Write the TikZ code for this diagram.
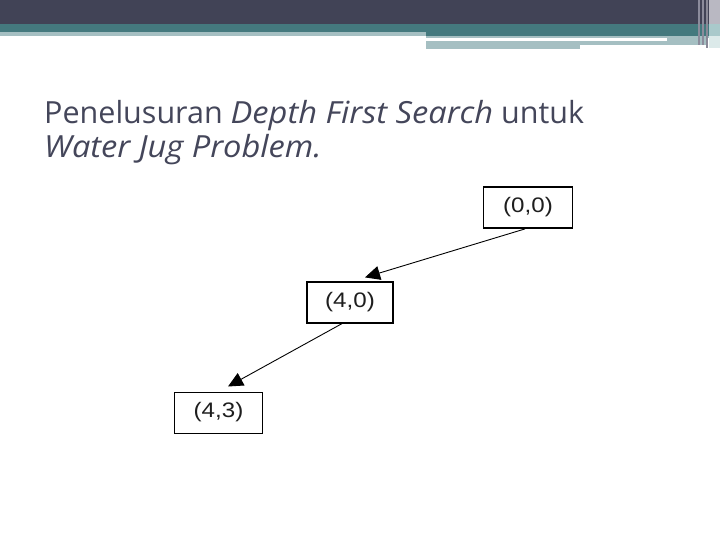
\documentclass[tikz,border=0pt]{standalone}
\usepackage{fontspec}
\setmainfont{Open Sans}
\newfontfamily\boxfont{Liberation Sans}
\usetikzlibrary{arrows.meta}
\definecolor{darkband}{HTML}{414356}
\definecolor{tealband}{HTML}{44797E}
\definecolor{lightband}{HTML}{A5BFC2}
\definecolor{edgegray}{HTML}{B9B8C2}
\definecolor{edgeteal}{HTML}{A9C9CB}
\definecolor{edgelight}{HTML}{DCEAEA}
\definecolor{stripe}{HTML}{8C8C9C}
\definecolor{titlecol}{HTML}{44465A}
\definecolor{boxtext}{HTML}{1E1E1E}
\tikzset{
  statebox/.style={draw=black, line width=1pt, minimum width=88pt, minimum height=41pt,
    inner sep=0pt, font=\boxfont\fontsize{21}{24}\selectfont, text=boxtext},
  treearrow/.style={draw=black, line width=0.9pt, -{Triangle[length=15pt,width=14pt]}},
  titletext/.style={anchor=base west, inner sep=0pt, text=titlecol, font=\fontsize{30.5}{36}\selectfont}
}
\newcommand{\stretchtext}[1]{\scalebox{1.15}[1]{#1}}
\newcommand{\wideit}[1]{\scalebox{1.07}[1]{\itshape #1}}
\begin{document}
\begin{tikzpicture}[x=1pt,y=-1pt]
\useasboundingbox (0,0) rectangle (720,540);
\fill[white] (0,0) rectangle (720,540);
% header bands
\fill[darkband] (0,0) rectangle (720,24);
\fill[tealband] (0,24) rectangle (720,32);
\fill[tealband] (426,32) rectangle (720,36);
\fill[lightband] (0,32) rectangle (426,36);
\fill[lightband] (426,36) rectangle (720,38);
\fill[lightband] (426,41) rectangle (580,49);
\fill[lightband] (580,41) rectangle (707,45);
\fill[lightband] (667,36) rectangle (707,45);
% right edge
\fill[edgegray] (709,0) rectangle (720,24);
\fill[edgeteal] (709,24) rectangle (720,36);
\fill[edgelight] (709,36) rectangle (720,48);
\fill[stripe] (698,0) rectangle (700,45);
\fill[stripe] (702,0) rectangle (704,45);
\fill[edgegray!60!darkband] (706,0) rectangle (707.5,48);
% title
\node[titletext] (t1) at (44,124) {Penelusuran \wideit{Depth First Search} untuk};
\node[titletext] (t2) at (44,158) {\wideit{Water Jug Problem.}};
% state boxes
\node[statebox, line width=1.8pt, minimum width=89pt] (a) at (528,207.5) {\stretchtext{(0,0)}};
\node[statebox, line width=1.2pt, minimum width=86pt] (b) at (350,302.5) {\stretchtext{(4,0)}};
\node[statebox] (c) at (218.5,412.5) {\stretchtext{(4,3)}};
% connectors
\draw[treearrow] ([xshift=-3pt]a.south) -- ([xshift=15pt,yshift=4pt]b.north);
\draw[treearrow] ([xshift=-8pt]b.south) -- ([xshift=9.5pt,yshift=5pt]c.north);
\end{tikzpicture}
\end{document}
